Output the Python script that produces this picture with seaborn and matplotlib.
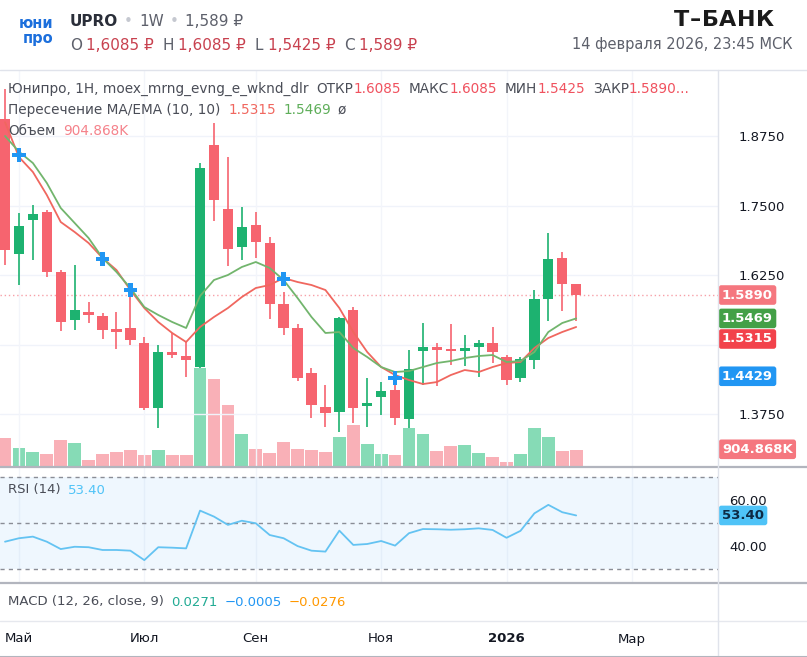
import numpy as np
import pandas as pd
import seaborn as sns
import matplotlib.pyplot as plt
from matplotlib.lines import Line2D

# weekly candles, Apr 28 2025 .. Feb 9 2026
opens = [1.9056, 1.663, 1.724, 1.739, 1.631, 1.544, 1.558, 1.551, 1.526, 1.530,
         1.502, 1.385, 1.486, 1.480, 1.460, 1.859, 1.744, 1.676, 1.715, 1.683,
         1.573, 1.530, 1.449, 1.388, 1.378, 1.562, 1.389, 1.406, 1.419, 1.366,
         1.488, 1.496, 1.492, 1.488, 1.496, 1.502, 1.478, 1.440, 1.472, 1.582,
         1.656, 1.6085]
highs = [1.960, 1.736, 1.751, 1.742, 1.634, 1.643, 1.576, 1.557, 1.559, 1.602,
         1.514, 1.500, 1.521, 1.505, 1.826, 1.898, 1.838, 1.748, 1.738, 1.694,
         1.595, 1.536, 1.458, 1.428, 1.549, 1.568, 1.439, 1.433, 1.427, 1.490,
         1.539, 1.502, 1.537, 1.518, 1.508, 1.531, 1.481, 1.478, 1.598, 1.700,
         1.666, 1.6085]
lows = [1.643, 1.607, 1.652, 1.622, 1.524, 1.526, 1.539, 1.510, 1.492, 1.499,
        1.382, 1.349, 1.476, 1.442, 1.458, 1.722, 1.642, 1.652, 1.655, 1.546,
        1.518, 1.434, 1.367, 1.352, 1.343, 1.358, 1.352, 1.373, 1.355, 1.349,
        1.427, 1.426, 1.463, 1.462, 1.442, 1.466, 1.428, 1.433, 1.456, 1.542,
        1.560, 1.5425]
closes = [1.670, 1.714, 1.734, 1.631, 1.541, 1.562, 1.553, 1.526, 1.523, 1.508,
          1.386, 1.487, 1.481, 1.472, 1.818, 1.760, 1.672, 1.712, 1.684, 1.573,
          1.530, 1.440, 1.392, 1.376, 1.548, 1.386, 1.395, 1.416, 1.367, 1.456,
          1.496, 1.490, 1.488, 1.493, 1.502, 1.486, 1.436, 1.474, 1.582, 1.653,
          1.609, 1.589]
volumes_k = [1630, 1020, 824, 708, 1480, 1342, 328, 708, 824, 904,
             651, 904, 634, 634, 5645, 5028, 3496, 1826, 996, 766,
             1400, 962, 904, 824, 1670, 2344, 1250, 708, 616, 2172,
             1826, 847, 1135, 1227, 766, 536, 248, 708, 2172, 1688,
             847, 904.868]
ma_line = [1.8998, 1.8372, 1.8103, 1.7689, 1.7203, 1.7023, 1.6825, 1.6556, 1.6340, 1.5980,
           1.5656, 1.5405, 1.5207, 1.5045, 1.5315, 1.5495, 1.5656, 1.5854, 1.6016, 1.6070,
           1.6196, 1.6124, 1.6070, 1.5980, 1.5656, 1.5225, 1.4865, 1.4595, 1.4451, 1.4361,
           1.4289, 1.4325, 1.4451, 1.4541, 1.4505, 1.4595, 1.4667, 1.4685, 1.4937, 1.5117,
           1.5225, 1.5315]
ema_line = [1.8750, 1.8468, 1.8264, 1.7905, 1.7455, 1.7185, 1.6915, 1.6556, 1.6304, 1.6016,
            1.5674, 1.5531, 1.5405, 1.5297, 1.5872, 1.6160, 1.6250, 1.6394, 1.6484, 1.6376,
            1.6160, 1.5836, 1.5495, 1.5207, 1.5225, 1.4937, 1.4775, 1.4595, 1.4505, 1.4523,
            1.4595, 1.4667, 1.4703, 1.4757, 1.4793, 1.4811, 1.4685, 1.4703, 1.4865, 1.5225,
            1.5387, 1.5469]
cross_bars = [1, 7, 9, 20, 28]
cross_prices = [1.8408, 1.6538, 1.5980, 1.6178, 1.4398]
rsi = [42.0, 43.5, 44.2, 42.0, 38.8, 39.8, 39.6, 38.4, 38.4, 38.1,
       34.0, 39.6, 39.4, 39.1, 55.5, 52.9, 49.3, 51.1, 50.0, 44.9,
       43.5, 40.1, 38.1, 37.7, 46.8, 40.6, 41.0, 42.3, 40.3, 45.7,
       47.5, 47.4, 47.2, 47.4, 47.8, 47.1, 43.7, 46.7, 54.3, 58.0,
       54.8, 53.4]
month_pos = [1, 10, 18, 27, 36, 45]
month_labels = ['Май', 'Июл', 'Сен', 'Ноя', '2026', 'Мар']
price_ticks = [1.375, 1.625, 1.750, 1.875]
last_price = 1.589

UP, DOWN = '#1db270', '#f6646f'
VUP, VDOWN = '#86dbb6', '#f9b0b7'
W, H = 807, 657

sns.set_theme(style='white')
plt.rcParams['font.family'] = ['DejaVu Sans']

df = pd.DataFrame({'i': np.arange(len(closes)), 'open': opens, 'high': highs,
                   'low': lows, 'close': closes, 'vol': volumes_k,
                   'ma': ma_line, 'ema': ema_line, 'rsi': rsi})
df['up'] = df['close'] >= df['open']
df['col'] = np.where(df['up'], UP, DOWN)
df['vcol'] = np.where(df['up'], VUP, VDOWN)

fig = plt.figure(figsize=(W / 100, H / 100), dpi=100)


def box(x0, y0, x1, y1):
    return [x0 / W, 1 - y1 / H, (x1 - x0) / W, (y1 - y0) / H]


xlim = (-0.36, 51.18)

# volume underlay
axv = fig.add_axes(box(0, 70, 718, 466))
axv.bar(df['i'], df['vol'], width=0.92, color=df['vcol'], linewidth=0)
axv.set_xlim(xlim)
axv.set_ylim(0, 22800)
axv.axis('off')

ax = fig.add_axes(box(0, 70, 718, 466))
ax.set_facecolor('none')
for p in [1.375, 1.5, 1.625, 1.75, 1.875]:
    ax.axhline(p, color='#f0f3fa', lw=1, zorder=0)
for m in month_pos:
    ax.axvline(m, color='#f3f5fa', lw=1, zorder=0)
ax.vlines(df['i'], df['low'], df['high'], colors=df['col'], lw=1.2, zorder=2)
body_lo = df[['open', 'close']].min(axis=1)
body_h = (df['open'] - df['close']).abs().clip(lower=0.004)
ax.bar(df['i'], body_h, bottom=body_lo, width=0.74, color=df['col'], linewidth=0, zorder=3)
sns.lineplot(data=df, x='i', y='ma', ax=ax, color='#f0675f', lw=1.3, zorder=4)
sns.lineplot(data=df, x='i', y='ema', ax=ax, color='#72b56d', lw=1.3, zorder=4)
sns.scatterplot(x=cross_bars, y=cross_prices, ax=ax, marker='P', s=90, color='#2196f3',
                edgecolor='none', zorder=5)
ax.axhline(last_price, color='#f7a0a8', lw=1, ls=(0, (1, 2)), zorder=1)
ax.set_xlim(xlim)
ax.set_ylim(1.2815, 1.9937)
ax.set_xlabel('')
ax.set_ylabel('')
ax.set_xticks([])
ax.yaxis.tick_right()
ax.set_yticks(price_ticks)
ax.set_yticklabels([f'{p:.4f}' for p in price_ticks])
ax.tick_params(axis='y', length=0, pad=15, labelsize=9.5, labelcolor='#131722')
for s in ax.spines.values():
    s.set_visible(False)


def tag(axis, y, text, bg, fg='white', dy=0):
    axis.annotate(text, xy=(1, y), xycoords=('axes fraction', 'data'),
                  xytext=(4, dy), textcoords='offset pixels', ha='left', va='center',
                  fontsize=9.5, color=fg, fontweight='bold',
                  bbox=dict(boxstyle='round,pad=0.25,rounding_size=0.2', fc=bg, ec='none'),
                  annotation_clip=False, zorder=10)


tag(ax, 1.589, '1.5890', '#f5777f')
tag(ax, 1.5469, '1.5469', '#43a047')
tag(ax, 1.5315, '1.5315', '#f2424b', dy=-12)
tag(ax, 1.4429, '1.4429', '#2196f3')
tag(axv, 904.868, '904.868K', '#f5777f', dy=1)

# RSI panel
axr = fig.add_axes(box(0, 468, 718, 582))
axr.set_facecolor('none')
for m in month_pos:
    axr.axvline(m, color='#f3f5fa', lw=1, zorder=0)
axr.axhspan(30, 70, color='#2196f3', alpha=0.07, lw=0)
for lv in [30, 50, 70]:
    axr.axhline(lv, color='#8a8d96', lw=1, ls=(0, (3, 3)))
sns.lineplot(data=df, x='i', y='rsi', ax=axr, color='#64c3f2', lw=1.3)
axr.set_xlim(xlim)
axr.set_ylim(24.5, 74.0)
axr.set_xlabel('')
axr.set_ylabel('')
axr.set_xticks([])
axr.yaxis.tick_right()
axr.set_yticks([40, 60])
axr.set_yticklabels(['40.00', '60.00'])
axr.tick_params(axis='y', length=0, pad=8, labelsize=9.5, labelcolor='#131722')
for s in axr.spines.values():
    s.set_visible(False)
tag(axr, 53.4, '53.40', '#4fc3f7', fg='#0d2a44')

# MACD panel (collapsed) + time axis
axm = fig.add_axes(box(0, 584, 718, 620))
axm.set_facecolor('none')
axm.set_xlim(xlim)
axm.set_yticks([])
axm.set_xticks(month_pos)
axm.set_xticklabels(month_labels)
axm.tick_params(axis='x', length=0, pad=9, labelsize=9.5, labelcolor='#131722')
axm.get_xticklabels()[4].set_fontweight('bold')
for s in axm.spines.values():
    s.set_visible(False)

# frame lines
for y0, c, lw in [(70, '#e0e3eb', 1), (467, '#b2b5be', 1.6), (583, '#b2b5be', 1.6), (621, '#e6e8ee', 1)]:
    fig.add_artist(Line2D([0, 1], [1 - y0 / H] * 2, color=c, lw=lw))
fig.add_artist(Line2D([718 / W] * 2, [0, 1 - 70 / H], color='#e0e3eb', lw=1))
fig.add_artist(Line2D([0, 1], [0.5 / H] * 2, color='#b2b5be', lw=1.5))

rend = fig.canvas.get_renderer()


def chain(x, y, parts, size=9.5):
    for text, color, weight, gap in parts:
        t = fig.text(x / W, 1 - y / H, text, color=color, fontsize=size, fontweight=weight,
                     ha='left', va='center')
        x += t.get_window_extent(rend).width + gap


G, R = '#4a4d57', '#f0525f'
chain(8, 89, [('Юнипро, 1H, moex_mrng_evng_e_wknd_dlr', G, 'normal', 8),
              ('ОТКР', G, 'normal', 0), ('1.6085', R, 'normal', 8),
              ('МАКС', G, 'normal', 0), ('1.6085', R, 'normal', 8),
              ('МИН', G, 'normal', 0), ('1.5425', R, 'normal', 8),
              ('ЗАКР', G, 'normal', 0), ('1.5890...', R, 'normal', 0)], size=9.8)
chain(8, 110, [('Пересечение MA/EMA (10, 10)', G, 'normal', 8),
               ('1.5315', '#f0675f', 'normal', 7), ('1.5469', '#5fae5a', 'normal', 7),
               ('ø', G, 'normal', 0)], size=9.8)
chain(8, 131, [('Объем', G, 'normal', 8), ('904.868K', '#f5828b', 'normal', 0)], size=9.8)
chain(8, 490, [('RSI (14)', G, 'normal', 7), ('53.40', '#4fc3f7', 'normal', 0)])
chain(8, 602, [('MACD (12, 26, close, 9)', G, 'normal', 7), ('0.0271', '#22ab94', 'normal', 7),
               ('−0.0005', '#2196f3', 'normal', 7), ('−0.0276', '#ff9800', 'normal', 0)])

# header
fig.text(36 / W, 1 - 23 / H, 'юни', color='#1c6fdc', fontsize=10.5, fontweight='bold', ha='center', va='center')
fig.text(38 / W, 1 - 38 / H, 'про', color='#1c6fdc', fontsize=10.5, fontweight='bold', ha='center', va='center')
chain(70, 22, [('UPRO', '#2a2e39', 'bold', 6), ('•', '#c5c8d0', 'normal', 6),
               ('1W', '#5d606b', 'normal', 6), ('•', '#c5c8d0', 'normal', 6),
               ('1,589 ₽', '#5d606b', 'normal', 0)], size=11)
chain(70, 45, [('O', '#5d606b', 'normal', 4), ('1,6085 ₽', '#c8414f', 'normal', 9),
               ('H', '#5d606b', 'normal', 4), ('1,6085 ₽', '#c8414f', 'normal', 9),
               ('L', '#5d606b', 'normal', 4), ('1,5425 ₽', '#c8414f', 'normal', 9),
               ('C', '#5d606b', 'normal', 4), ('1,589 ₽', '#c8414f', 'normal', 0)], size=11)
chain(674, 20, [(ch, '#1a1a1a', 'heavy', 0.5) for ch in 'Т–БАНК'], size=16)
fig.text(792 / W, 1 - 45 / H, '14 февраля 2026, 23:45 МСК', color='#5d606b', fontsize=10.5,
         ha='right', va='center')

fig.savefig('out.png', dpi=100)
